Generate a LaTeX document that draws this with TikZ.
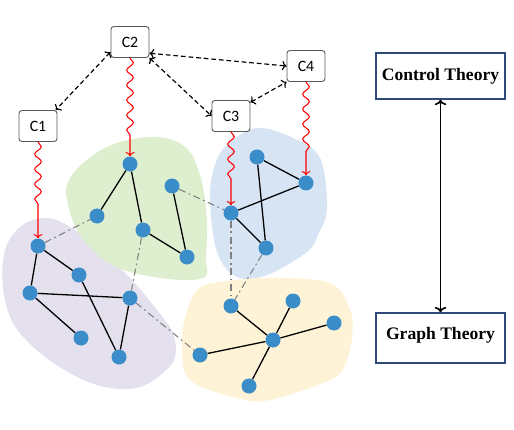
\documentclass[tikz,border=0pt]{standalone}
\usepackage{fontspec}
\setmainfont{Liberation Serif}
\newfontfamily\agentfont{Carlito}
\usepackage{xcolor}
\usepackage{tikz}
\usetikzlibrary{positioning,calc,decorations.pathmorphing,arrows.meta}

\definecolor{vtxblue}{HTML}{3A8DC9}
\definecolor{blobgreen}{HTML}{DEEFCF}
\definecolor{blobblue}{HTML}{D6E4F4}
\definecolor{blobpurple}{HTML}{E5E0ED}
\definecolor{blobyellow}{HTML}{FEF3D6}
\definecolor{theoryblue}{HTML}{2F4B7C}
\definecolor{agentgray}{HTML}{5A5A5A}

\begin{document}
\begin{tikzpicture}[x=0.03cm, y=-0.03cm,
    agent/.style={draw=agentgray, fill=white, rounded corners=2.5pt, line width=0.8pt, minimum width=1.14cm, minimum height=0.93cm, inner sep=0pt, font=\agentfont\fontsize{13.5}{16}\selectfont},
    vtx/.style={circle, fill=vtxblue, inner sep=0pt, minimum size=0.45cm},
    link/.style={line width=1.1pt},
    cross/.style={gray, line width=0.9pt, dash pattern=on 6pt off 3pt on 1.5pt off 3pt},
    ctrl/.style={red, line width=0.9pt, ->, decorate, decoration={snake, amplitude=0.1cm, segment length=0.45cm, post length=0.6cm}},
    comm/.style={dash pattern=on 4pt off 2.5pt, <->, line width=1pt},
    theory/.style={draw=theoryblue, line width=1.2pt, minimum width=3.87cm, inner sep=0pt, font=\fontsize{15}{18}\selectfont\bfseries}]
    \useasboundingbox (0,0) rectangle (514,430);

    % clusters
    \fill[blobpurple] plot[smooth cycle, tension=0.6] coordinates {(43,218) (67,225) (100,250) (130,278) (157,310) (173,333) (175,357) (163,373) (140,387) (110,388) (77,377) (40,353) (13,323) (3,287) (5,250) (20,227)};
    \fill[blobgreen] plot[smooth cycle, tension=0.6] coordinates {(150,137) (173,140) (190,152) (200,175) (205,200) (207,225) (206,258) (203,278) (160,278) (112,265) (80,235) (67,200) (70,178) (93,155) (120,142)};
    \fill[blobblue] plot[smooth cycle, tension=0.6] coordinates {(257,128) (293,138) (320,158) (327,208) (318,235) (307,252) (267,275) (237,277) (217,252) (210,198) (215,165) (227,145)};
    \fill[blobyellow] plot[smooth cycle, tension=0.6] coordinates {(197,290) (220,282) (270,278) (330,283) (350,310) (352,337) (345,365) (330,380) (270,400) (237,398) (190,380) (182,347) (185,318)};

    % controllers
    \node[agent] (c1) at (38,126) {C1};
    \node[agent] (c2) at (130,42) {C2};
    \node[agent] (c3) at (231,116) {C3};
    \node[agent] (c4) at (306,66) {C4};

    % green graph
    \node[vtx] (g1) at (130,164) {};
    \node[vtx] (g2) at (97,216) {};
    \node[vtx] (g3) at (143,230) {};
    \node[vtx] (g4) at (172,186) {};
    \node[vtx] (g5) at (187,257) {};
    % blue graph
    \node[vtx] (b1) at (257,157) {};
    \node[vtx] (b2) at (306,183) {};
    \node[vtx] (b3) at (231,213) {};
    \node[vtx] (b4) at (266,248) {};
    % purple graph
    \node[vtx] (p1) at (38,246) {};
    \node[vtx] (p2) at (79,275) {};
    \node[vtx] (p3) at (30,293) {};
    \node[vtx] (p4) at (130,298) {};
    \node[vtx] (p5) at (81,338) {};
    \node[vtx] (p6) at (119,357) {};
    % yellow graph
    \node[vtx] (y1) at (231,306) {};
    \node[vtx] (y2) at (293,301) {};
    \node[vtx] (y3) at (334,323) {};
    \node[vtx] (y4) at (273,340) {};
    \node[vtx] (y5) at (200,355) {};
    \node[vtx] (y6) at (249,386) {};

    \draw[link] (g1) -- (g2);
    \draw[link] (g1) -- (g3);
    \draw[link] (g3) -- (g5);
    \draw[link] (g4) -- (g5);
    \draw[link] (b1) -- (b2);
    \draw[link] (b1) -- (b4);
    \draw[link] (b3) -- (b2);
    \draw[link] (b3) -- (b4);
    \draw[link] (p1) -- (p2);
    \draw[link] (p1) -- (p3);
    \draw[link] (p3) -- (p4);
    \draw[link] (p3) -- (p5);
    \draw[link] (p2) -- (p6);
    \draw[link] (p4) -- (p6);
    \draw[link] (y1) -- (y4);
    \draw[link] (y2) -- (y4);
    \draw[link] (y3) -- (y4);
    \draw[link] (y5) -- (y4);
    \draw[link] (y6) -- (y4);

    % between clusters
    \draw[cross] (p1) -- (g2);
    \draw[cross] (g4) -- (b3);
    \draw[cross] (g3) -- (p4);
    \draw[cross] (p4) -- (y5);
    \draw[cross] (b3) -- (y1);
    \draw[cross] (b4) -- (y1);

    % control inputs
    \draw[ctrl, decoration={post length=0.9cm}] (c1) -- (p1);
    \draw[ctrl] (c2) -- (g1);
    \draw[ctrl] (c3) -- (b3);
    \draw[ctrl] (c4) -- (b2);

    % communication
    \draw[comm] (c2.-153) -- (c1.42);
    \draw[comm] (c2.-30) -- (c4.west);
    \draw[comm] (c2.south east) -- (c3.west);
    \draw[comm] (c3.35) -- (c4.south west);

    % theories
    \node[theory, minimum height=1.38cm] (ct) at (440.5,76) {Control Theory};
    \node[theory, minimum height=1.5cm, text height=10pt, text depth=7pt] (gt) at (440.5,338) {Graph Theory};
    \draw[<->, line width=1.4pt] (ct) -- (gt);
\end{tikzpicture}
\end{document}
